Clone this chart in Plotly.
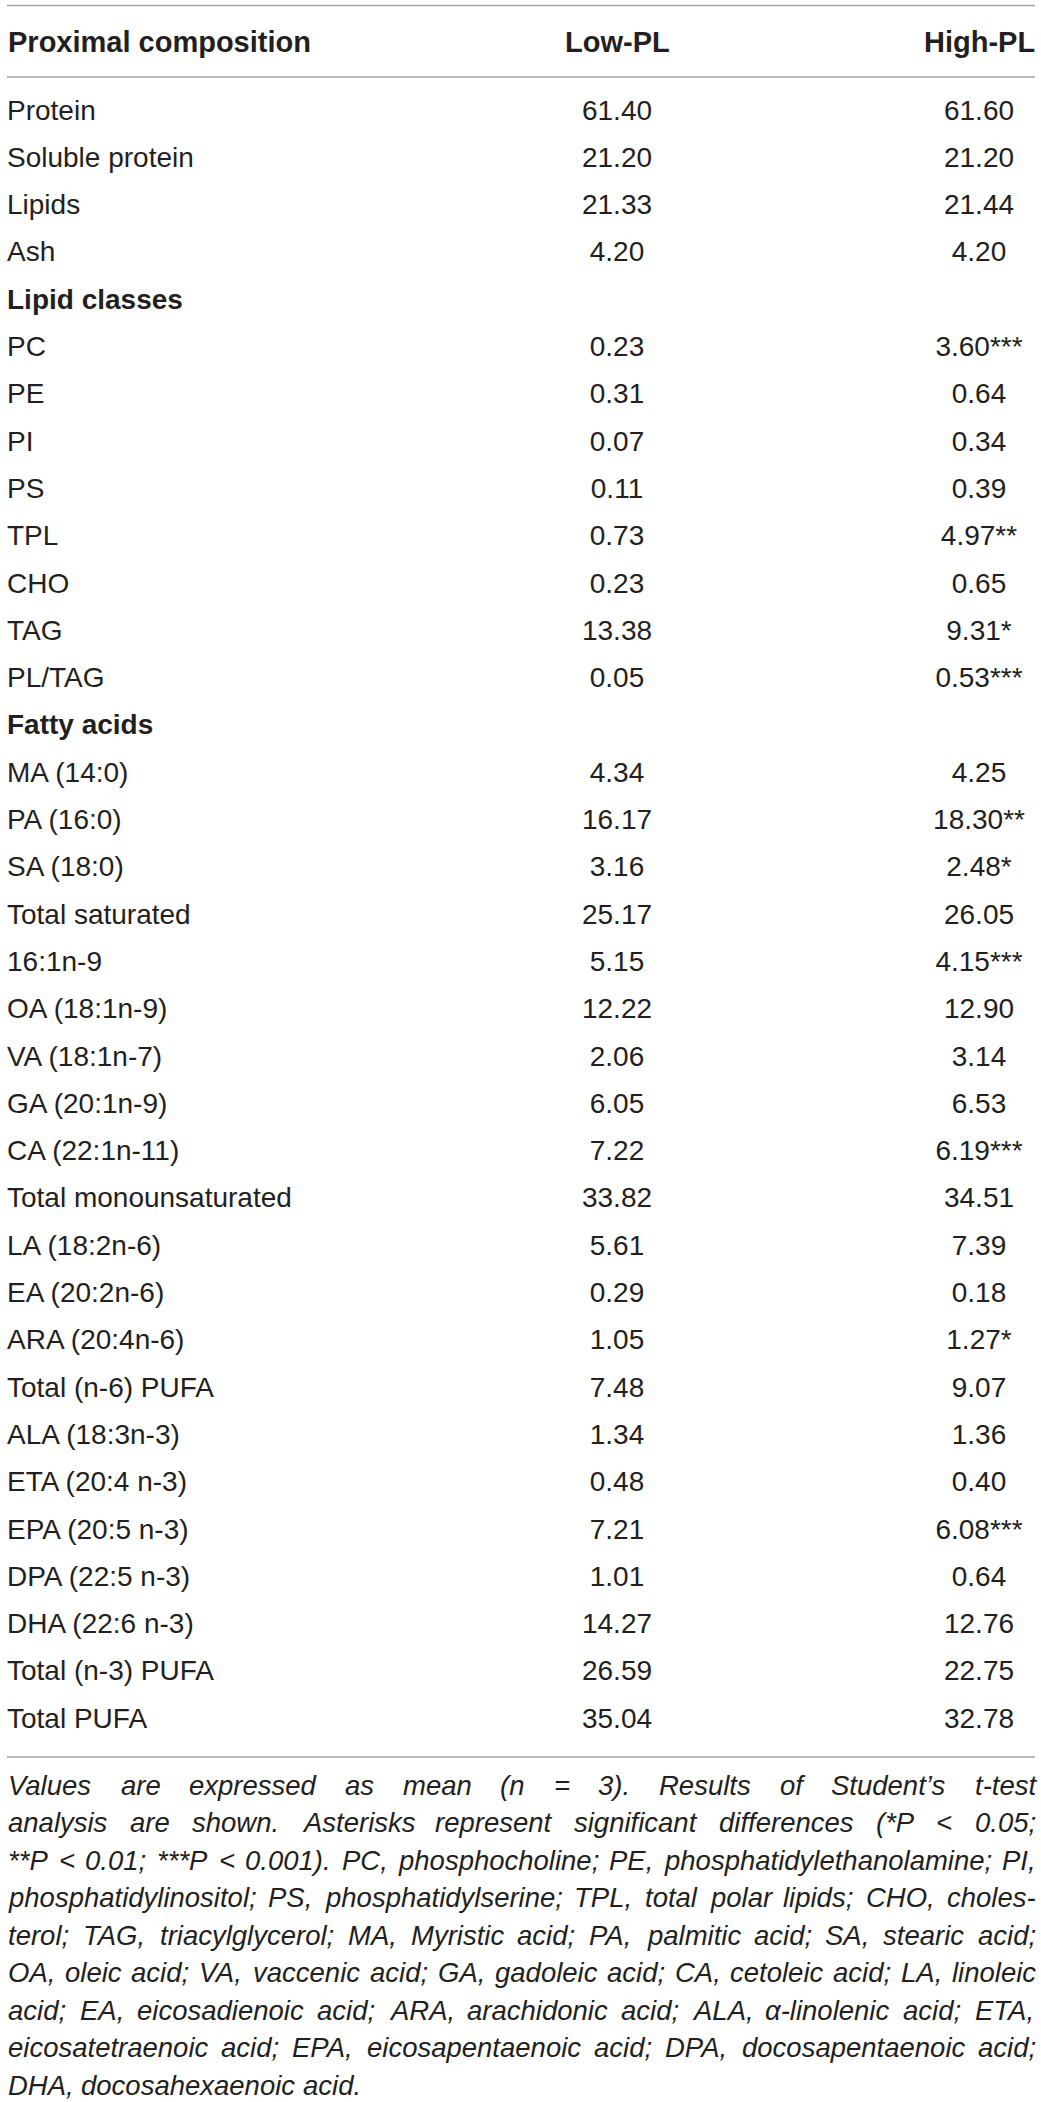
import plotly.graph_objects as go

# table content
headers = ["Proximal composition", "Low-PL", "High-PL"]

labels = [
    "Protein", "Soluble protein", "Lipids", "Ash",
    "Lipid classes",
    "PC", "PE", "PI", "PS", "TPL", "CHO", "TAG", "PL/TAG",
    "Fatty acids",
    "MA (14:0)", "PA (16:0)", "SA (18:0)", "Total saturated",
    "16:1n-9", "OA (18:1n-9)", "VA (18:1n-7)", "GA (20:1n-9)", "CA (22:1n-11)",
    "Total monounsaturated",
    "LA (18:2n-6)", "EA (20:2n-6)", "ARA (20:4n-6)", "Total (n-6) PUFA",
    "ALA (18:3n-3)", "ETA (20:4 n-3)", "EPA (20:5 n-3)", "DPA (22:5 n-3)",
    "DHA (22:6 n-3)", "Total (n-3) PUFA", "Total PUFA",
]
section_rows = ["Lipid classes", "Fatty acids"]

low_pl = [
    "61.40", "21.20", "21.33", "4.20",
    "",
    "0.23", "0.31", "0.07", "0.11", "0.73", "0.23", "13.38", "0.05",
    "",
    "4.34", "16.17", "3.16", "25.17",
    "5.15", "12.22", "2.06", "6.05", "7.22", "33.82",
    "5.61", "0.29", "1.05", "7.48",
    "1.34", "0.48", "7.21", "1.01", "14.27", "26.59", "35.04",
]
high_pl = [
    "61.60", "21.20", "21.44", "4.20",
    "",
    "3.60", "0.64", "0.34", "0.39", "4.97", "0.65", "9.31", "0.53",
    "",
    "4.25", "18.30", "2.48", "26.05",
    "4.15", "12.90", "3.14", "6.53", "6.19", "34.51",
    "7.39", "0.18", "1.27", "9.07",
    "1.36", "0.40", "6.08", "0.64", "12.76", "22.75", "32.78",
]
high_sig = [
    "", "", "", "",
    "",
    "***", "", "", "", "**", "", "*", "***",
    "",
    "", "**", "*", "",
    "***", "", "", "", "***", "",
    "", "", "*", "",
    "", "", "***", "", "", "", "",
]

footnote_lines = [
    "Values are expressed as mean (n = 3). Results of Student\u2019s t-test",
    "analysis are shown. Asterisks represent significant differences (*P < 0.05;",
    "**P < 0.01; ***P < 0.001). PC, phosphocholine; PE, phosphatidylethanolamine; PI,",
    "phosphatidylinositol; PS, phosphatidylserine; TPL, total polar lipids; CHO, choles-",
    "terol; TAG, triacylglycerol; MA, Myristic acid; PA, palmitic acid; SA, stearic acid;",
    "OA, oleic acid; VA, vaccenic acid; GA, gadoleic acid; CA, cetoleic acid; LA, linoleic",
    "acid; EA, eicosadienoic acid; ARA, arachidonic acid; ALA, \u03b1-linolenic acid; ETA,",
    "eicosatetraenoic acid; EPA, eicosapentaenoic acid; DPA, docosapentaenoic acid;",
    "DHA, docosahexaenoic acid.",
]

W, H = 1041, 2102
X0, X1 = 7, 1035
COL_LOW, COL_HIGH = 617, 979
HEAD_Y = 42
ROW0, ROW_H = 112.5, 47.3
FOOT0, FOOT_H = 1785, 37.5
TXT = "#231f20"
RULE = "#a3a3a3"
FONT = "Liberation Sans, Arial, Helvetica, sans-serif"

# Arial / Liberation Sans advance widths (1/1000 em), used to justify the note
adv = dict(zip(" !\"#$%&'()*+,-./", [278, 278, 355, 556, 556, 889, 667, 191, 333, 333, 389, 584, 278, 333, 278, 278]))
adv.update({d: 556 for d in "0123456789"})
adv.update(dict(zip(":;<=>?", [278, 278, 584, 584, 584, 556])))
adv.update(dict(zip("ABCDEFGHIJKLMNOPQRSTUVWXYZ",
                    [667, 667, 722, 722, 667, 611, 778, 722, 278, 500, 667, 556, 833,
                     722, 778, 667, 778, 722, 667, 611, 722, 667, 944, 667, 667, 611])))
adv.update(dict(zip("abcdefghijklmnopqrstuvwxyz",
                    [556, 556, 500, 556, 556, 278, 556, 556, 222, 222, 500, 222, 833,
                     556, 556, 556, 556, 333, 500, 278, 556, 500, 722, 500, 500, 500])))
adv.update({"\u2019": 222, "\u03b1": 578})


def text_width(s, size):
    return sum(adv.get(c, 556) for c in s) / 1000.0 * size


rows_y = [ROW0 + i * ROW_H for i in range(len(labels))]
body_labels = [("<b>%s</b>" % l) if l in section_rows else l for l in labels]
# the asterisk glyph already sits at cap height, as in the printed table
high_txt = [v + s for v, s in zip(high_pl, high_sig)]

# value rows only (section header rows have no numbers)
val_idx = [i for i, v in enumerate(low_pl) if v]

fig = go.Figure()

fig.add_trace(go.Scatter(
    x=[X0] * len(labels), y=rows_y, text=body_labels, mode="text",
    textposition="middle right", textfont=dict(family=FONT, size=28, color=TXT),
    hoverinfo="skip", showlegend=False,
))
fig.add_trace(go.Scatter(
    x=[COL_LOW] * len(val_idx), y=[rows_y[i] for i in val_idx],
    text=[low_pl[i] for i in val_idx], mode="text",
    textposition="middle center", textfont=dict(family=FONT, size=28, color=TXT),
    hoverinfo="skip", showlegend=False,
))
fig.add_trace(go.Scatter(
    x=[COL_HIGH] * len(val_idx), y=[rows_y[i] for i in val_idx],
    text=[high_txt[i] for i in val_idx], mode="text",
    textposition="middle center", textfont=dict(family=FONT, size=28, color=TXT),
    hoverinfo="skip", showlegend=False,
))

# column headers
fig.add_annotation(x=X0, y=HEAD_Y, text="<b>%s</b>" % headers[0], showarrow=False,
                   xanchor="left", yanchor="middle", borderpad=0,
                   font=dict(family=FONT, size=29, color=TXT))
for cx, h in zip([COL_LOW, COL_HIGH], headers[1:]):
    fig.add_annotation(x=cx, y=HEAD_Y, text="<b>%s</b>" % h, showarrow=False,
                       xanchor="center", yanchor="middle", borderpad=0,
                       font=dict(family=FONT, size=29, color=TXT))

# horizontal rules
for ly in [5.5, 77, 1757]:
    fig.add_shape(type="line", x0=X0, x1=X1, y0=ly, y1=ly,
                  line=dict(color=RULE, width=1.5))

# justified italic footnote
fsize = 27.5
for j, line in enumerate(footnote_lines):
    words = line.split(" ")
    yy = FOOT0 + j * FOOT_H
    widths = [text_width(w, fsize) for w in words]
    last = j == len(footnote_lines) - 1
    if last or len(words) < 2:
        gap = text_width(" ", fsize)
    else:
        gap = (X1 - X0 - sum(widths)) / (len(words) - 1)
    xx = X0
    for w, ww in zip(words, widths):
        fig.add_annotation(x=xx, y=yy, text="<i>%s</i>" % w, showarrow=False,
                           xanchor="left", yanchor="middle", borderpad=0,
                           font=dict(family=FONT, size=fsize, color=TXT))
        xx += ww + gap

fig.update_xaxes(range=[0, W], visible=False, fixedrange=True)
fig.update_yaxes(range=[H, 0], visible=False, fixedrange=True)
fig.update_layout(
    width=W, height=H,
    margin=dict(l=0, r=0, t=0, b=0),
    paper_bgcolor="white", plot_bgcolor="white",
)

fig.write_html("out.html", config={"displayModeBar": False},
               post_script="document.body.style.margin='0';")
